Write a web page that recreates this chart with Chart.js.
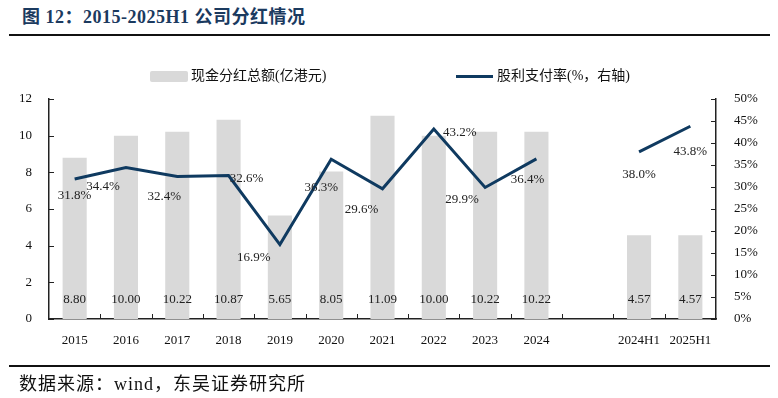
<!DOCTYPE html>
<html>
<head>
<meta charset="utf-8">
<script src="https://cdn.jsdelivr.net/npm/chart.js@4"></script>
<style>
  body { margin: 0; background: #fff; }
  .wrap { position: relative; width: 778px; height: 398px; overflow: hidden; font-family: "Liberation Serif", "Noto Sans CJK SC", serif; }
  .title { position: absolute; left: 22px; top: 6px; font-size: 18px; line-height: 22px; letter-spacing: 0.5px; font-weight: bold; color: #1b3a5f; white-space: nowrap; }
  .rule { position: absolute; left: 9px; width: 761px; height: 2px; background: #111; }
  .source { position: absolute; left: 19px; top: 372px; font-size: 18px; line-height: 24px; letter-spacing: 1px; color: #111; white-space: nowrap; }
  .legend { position: absolute; top: 66px; font-size: 14px; line-height: 20px; color: #111; white-space: nowrap; }
  .swatch { display: inline-block; vertical-align: middle; }
  #chartBox { position: absolute; left: 0; top: 0; width: 778px; height: 398px; }
</style>
</head>
<body>
<div class="wrap">
  <div class="title">图 12：2015-2025H1 公司分红情况</div>
  <div class="rule" style="top:34px"></div>
  <div id="chartBox"><canvas id="divChart"></canvas></div>
  <div class="legend" style="left:150px"><span class="swatch" style="width:38px;height:11px;background:#d9d9d9;border-radius:2px;margin-right:3px"></span>现金分红总额(亿港元)</div>
  <div class="legend" style="left:456px"><span class="swatch" style="width:37px;height:3px;background:#0f3a60;margin-right:4px"></span>股利支付率(%，右轴)</div>
  <div class="rule" style="top:365px"></div>
  <div class="source">数据来源：wind，东吴证券研究所</div>
</div>
<script>
/* Data */
const categories = ['2015', '2016', '2017', '2018', '2019', '2020', '2021', '2022', '2023', '2024', '', '2024H1', '2025H1'];
const dividendTotal = [8.80, 10.00, 10.22, 10.87, 5.65, 8.05, 11.09, 10.00, 10.22, 10.22, null, 4.57, 4.57];
const payoutRatio = [31.8, 34.4, 32.4, 32.6, 16.9, 36.3, 29.6, 43.2, 29.9, 36.4, null, 38.0, 43.8];

// label offsets (dx, dy) for the payout ratio labels
const ratioLabelOffsets = [[0, 16], [-23, 19], [-13, 20], [18, 3], [-26, 13], [-10, 28], [-21, 21], [26, 4], [-23, 12], [-9, 21], [0, 0], [0, 23], [0, 25]];

const serif = '"Liberation Serif", "Noto Sans CJK SC", serif';

/* Inward tick marks + value labels */
const decorPlugin = {
  id: 'decor',
  afterDatasetsDraw(chart) {
    const ctx = chart.ctx;
    const area = chart.chartArea;
    const x = chart.scales.x;
    const yL = chart.scales.y;
    const yR = chart.scales.y1;
    ctx.save();
    ctx.strokeStyle = '#222';
    ctx.lineWidth = 1;
    ctx.beginPath();
    yL.ticks.forEach((t) => {
      const py = Math.round(yL.getPixelForValue(t.value)) + 0.5;
      ctx.moveTo(area.left, py); ctx.lineTo(area.left + 5, py);
    });
    yR.ticks.forEach((t) => {
      const py = Math.round(yR.getPixelForValue(t.value)) + 0.5;
      ctx.moveTo(area.right, py); ctx.lineTo(area.right - 5, py);
    });
    const step = (area.right - area.left) / categories.length;
    for (let i = 1; i < categories.length; i++) {
      const px = Math.round(area.left + step * i) + 0.5;
      ctx.moveTo(px, area.bottom); ctx.lineTo(px, area.bottom - 5);
    }
    ctx.stroke();

    ctx.font = '13px ' + serif;
    ctx.fillStyle = '#222';
    ctx.textAlign = 'center';
    ctx.textBaseline = 'middle';
    dividendTotal.forEach((v, i) => {
      if (v === null) return;
      ctx.fillText(v.toFixed(2), x.getPixelForValue(i), yL.getPixelForValue(0) - 19);
    });
    payoutRatio.forEach((v, i) => {
      if (v === null) return;
      const [dx, dy] = ratioLabelOffsets[i];
      ctx.fillText(v.toFixed(1) + '%', x.getPixelForValue(i) + dx, yR.getPixelForValue(v) + dy);
    });
    ctx.restore();
  },
};

const ctxDiv = document.getElementById('divChart').getContext('2d');
const divChart = new Chart(ctxDiv, {
  data: {
    labels: categories,
    datasets: [
      {
        type: 'line',
        label: '股利支付率(%，右轴)',
        data: payoutRatio,
        yAxisID: 'y1',
        borderColor: '#0f3a60',
        borderWidth: 3,
        pointRadius: 0,
        tension: 0,
        spanGaps: false,
        order: 0,
      },
      {
        type: 'bar',
        label: '现金分红总额(亿港元)',
        data: dividendTotal,
        yAxisID: 'y',
        backgroundColor: '#d9d9d9',
        barPercentage: 0.47,
        categoryPercentage: 1,
        order: 1,
      },
    ],
  },
  options: {
    responsive: true,
    maintainAspectRatio: false,
    animation: false,
    layout: { padding: { top: 99, bottom: 49, left: 0, right: 0 } },
    plugins: { legend: { display: false }, tooltip: { enabled: false } },
    scales: {
      x: {
        offset: true,
        grid: { display: false },
        border: { color: '#222', width: 1.5 },
        ticks: { color: '#111', font: { family: serif, size: 13 }, maxRotation: 0, autoSkip: false, padding: 6 },
        afterFit: (s) => { s.height = 30; },
      },
      y: {
        position: 'left',
        min: 0,
        max: 12,
        grid: { display: false },
        border: { color: '#222', width: 1.5 },
        ticks: { stepSize: 2, color: '#111', font: { family: serif, size: 13 }, padding: 9 },
        afterFit: (s) => { s.width = 49; },
      },
      y1: {
        position: 'right',
        min: 0,
        max: 50,
        grid: { display: false },
        border: { color: '#222', width: 1.5 },
        ticks: { stepSize: 5, color: '#111', font: { family: serif, size: 13 }, padding: 10, callback: (v) => v + '%' },
        afterFit: (s) => { s.width = 62; },
      },
    },
  },
  plugins: [decorPlugin],
});
</script>
</body>
</html>
